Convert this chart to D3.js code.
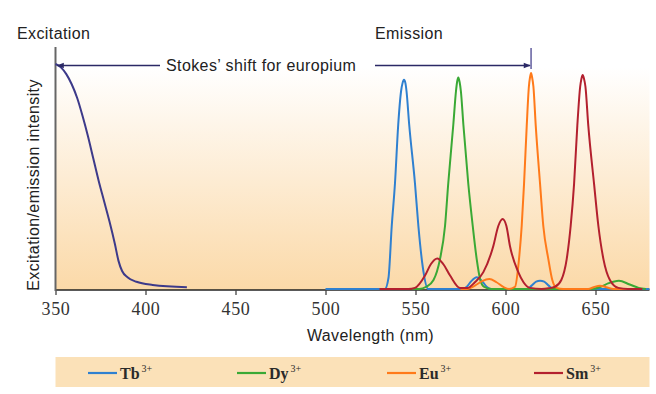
<!DOCTYPE html>
<html><head><meta charset="utf-8">
<script src="https://cdn.jsdelivr.net/npm/d3@7"></script>
<style>body{margin:0;background:#fff}svg{display:block}</style>
</head><body>
<svg id="c" width="656" height="394"></svg>
<script>
// ---- data (wavelength nm, relative intensity) ----
const excitation = [[350,1.0],[353,0.985],[356,0.955],[359,0.91],[362,0.85],[365,0.77],[368,0.68],[371,0.58],[374,0.48],[377,0.39],[380,0.3],[383,0.2],[385,0.125],[387,0.08],[390,0.052],[395,0.032],[404,0.018],[423,0.008]];
const tb = [[500,0],[533,0],[535,0.05],[536.8,0.28],[538.6,0.47],[540.4,0.73],[542,0.88],[542.8,0.915],[543.6,0.93],[544.4,0.915],[545,0.88],[546.5,0.73],[549.7,0.47],[551.6,0.28],[554,0.1],[557,0],[576,0],[578.5,0.01],[581,0.035],[584,0.052],[587,0.035],[589.5,0.01],[592,0],[612,0],[614.5,0.015],[617,0.033],[619.2,0.037],[621.5,0.033],[624,0.015],[626.5,0],[680,0]];
const dy = [[548,0],[552,0],[556,0.01],[560,0.04],[563.6,0.133],[566.4,0.28],[568.2,0.47],[571,0.73],[572.5,0.88],[573.1,0.92],[573.8,0.94],[574.5,0.92],[575.2,0.88],[576.6,0.73],[579.3,0.47],[581.8,0.28],[584,0.133],[586,0.04],[588,0.01],[592,0],[648,0],[653,0.01],[657,0.025],[663,0.037],[669,0.02],[674,0.005],[678,0]];
const eu = [[575,0],[578,0],[583,0.015],[587,0.035],[591,0.044],[595,0.03],[599,0.008],[602,0],[605.3,0.01],[607.5,0.133],[609,0.28],[610.3,0.467],[611.8,0.726],[613,0.9],[613.6,0.94],[614.2,0.96],[614.8,0.94],[615.5,0.9],[616.8,0.726],[619.2,0.467],[621,0.28],[623.8,0.133],[626,0.04],[628.4,0.005],[632,0],[646,0],[649,0.008],[652.5,0.015],[656,0.008],[660,0],[672,0]];
const sm = [[530,0],[546,0],[549.7,0.005],[555.3,0.06],[558.5,0.11],[562.1,0.136],[565.5,0.11],[569.2,0.06],[574.7,0.005],[579,0.005],[583,0.03],[587.7,0.075],[593.2,0.19],[596,0.28],[598.4,0.311],[600.5,0.28],[602.5,0.19],[607.1,0.075],[610,0.03],[613.6,0.005],[620,0],[624,0.003],[627.5,0.01],[631,0.04],[634,0.133],[636.2,0.28],[638.1,0.467],[639.9,0.726],[641.5,0.9],[642.2,0.935],[642.9,0.951],[643.6,0.935],[644.4,0.9],[646,0.726],[649.2,0.467],[651.6,0.28],[654.4,0.133],[658,0.04],[662.7,0.005],[668,0],[676,0]];
const seriesNames = ["Tb", "Dy", "Eu", "Sm"];
const seriesColors = ["#2f80d0", "#3aa935", "#ff7a1a", "#b3202e"];
const xTicks = [350, 400, 450, 500, 550, 600, 650];
const stokesFrom = 350, stokesTo = 614.2;

const svg = d3.select("#c");
const x = d3.scaleLinear().domain([350, 680]).range([55.5, 649.5]);
const y = d3.scaleLinear().domain([0, 1]).range([289, 64]);

// background gradient
const defs = svg.append("defs");
const g = defs.append("linearGradient").attr("id","bg").attr("x1",0).attr("y1",0).attr("x2",0).attr("y2",1);
g.append("stop").attr("offset","0%").attr("stop-color","#ffffff");
g.append("stop").attr("offset","8%").attr("stop-color","#ffffff");
g.append("stop").attr("offset","100%").attr("stop-color","#fbd9a8");
svg.append("rect").attr("x",x(350)).attr("y",48).attr("width",x(680)-x(350)).attr("height",y(0)+1-48).attr("fill","url(#bg)");

// arrow marker
defs.append("marker").attr("id","arr").attr("viewBox","0 0 10 10").attr("refX",9).attr("refY",5)
  .attr("markerWidth",9).attr("markerHeight",7).attr("markerUnits","userSpaceOnUse").attr("orient","auto")
  .append("path").attr("d","M0,1 L10,5 L0,9 Z").attr("fill","#2b2966");

// x axis
const xAxis = d3.axisBottom(x).tickValues(xTicks).tickSize(5).tickFormat(d3.format("d"));
const ax = svg.append("g").attr("transform",`translate(0,${y(0)+1})`).call(xAxis);
ax.select(".domain").attr("d",`M${x(350)},0H${x(680)}`).attr("stroke","#222").attr("stroke-width",1.5);
ax.selectAll(".tick line").attr("stroke","#444").attr("stroke-width",1.3);
ax.selectAll(".tick text").attr("font-family","'Liberation Serif', serif").attr("font-size",18).attr("letter-spacing",0.6).attr("fill","#333").attr("dy","0.95em");

// y axis line
svg.append("line").attr("x1",x(350)).attr("x2",x(350)).attr("y1",47).attr("y2",y(0)+2).attr("stroke","#666").attr("stroke-width",2);

// curves
const line = d3.line().x(d=>x(d[0])).y(d=>y(d[1])).curve(d3.curveMonotoneX);
const emis = [tb, dy, eu, sm];
emis.forEach((s,i)=>{
  svg.append("path").attr("d",line(s)).attr("fill","none").attr("stroke",seriesColors[i]).attr("stroke-width",2).attr("stroke-linejoin","round");
});
svg.append("path").attr("d",line(excitation)).attr("fill","none").attr("stroke","#3d3a8a").attr("stroke-width",2);

// Stokes shift arrow
const ay = 65.5;
svg.append("line").attr("x1",160).attr("x2",x(stokesFrom)+2).attr("y1",ay).attr("y2",ay).attr("stroke","#2b2966").attr("stroke-width",1.6).attr("marker-end","url(#arr)");
svg.append("line").attr("x1",375).attr("x2",x(stokesTo)-1).attr("y1",ay).attr("y2",ay).attr("stroke","#2b2966").attr("stroke-width",1.6).attr("marker-end","url(#arr)");
svg.append("line").attr("x1",x(stokesTo)).attr("x2",x(stokesTo)).attr("y1",48).attr("y2",69).attr("stroke","#4a4590").attr("stroke-width",1.3);

const sans = "'Liberation Sans', Arial, sans-serif";
const txt = (t,xx,yy,opt={}) => svg.append("text").attr("x",xx).attr("y",yy).attr("font-family",sans).attr("font-size",16).attr("letter-spacing",0.4).attr("fill","#222").attr("text-anchor",opt.anchor||"start").text(t);
txt("Stokes\u2019 shift for europium",166,71);
txt("Excitation",17,39);
txt("Emission",375,39);
txt("Wavelength (nm)",x(525),341,{anchor:"middle"});
svg.append("text").attr("transform","translate(39,185) rotate(-90)").attr("text-anchor","middle").attr("font-family",sans).attr("font-size",16).attr("letter-spacing",0.4).attr("fill","#222").text("Excitation/emission intensity");

// legend
svg.append("rect").attr("x",x(350)).attr("y",357).attr("width",x(680)-x(350)).attr("height",30).attr("fill","#fbe1b8");
const legX = [88, 237, 387, 534];
seriesNames.forEach((n,i)=>{
  svg.append("line").attr("x1",legX[i]).attr("x2",legX[i]+29).attr("y1",373).attr("y2",373).attr("stroke",seriesColors[i]).attr("stroke-width",2.2);
  const t = svg.append("text").attr("x",legX[i]+32).attr("y",379).attr("font-family","'Liberation Serif', serif").attr("font-weight","bold").attr("font-size",16).attr("fill","#2a2a2a");
  t.append("tspan").text(n);
  t.append("tspan").attr("dx",2).attr("dy",-7).attr("font-size",10).attr("font-weight","normal").text("3+");
});
</script>
</body></html>
